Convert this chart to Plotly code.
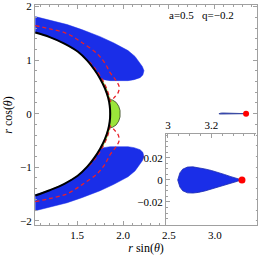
import plotly.graph_objects as go

# ---- data ----
black_x = [1.043, 1.20, 1.36, 1.505, 1.61, 1.688, 1.75, 1.803, 1.837, 1.854, 1.86,
           1.854, 1.837, 1.803, 1.75, 1.688, 1.61, 1.505, 1.36, 1.20, 1.043]
black_y = [1.515, 1.43, 1.31, 1.16, 0.99, 0.82, 0.654, 0.47, 0.30, 0.15, 0.0,
           -0.15, -0.30, -0.47, -0.654, -0.82, -0.99, -1.16, -1.31, -1.43, -1.53]

blue_x = [1.043, 1.20, 1.391, 1.55, 1.75, 1.90, 2.054, 2.13, 2.185, 2.21, 2.228,
          2.215, 2.185, 2.12, 2.054, 1.95, 1.859, 1.79, 1.75, 1.688, 1.61, 1.505,
          1.36, 1.20, 1.043]
blue_y = [1.813, 1.745, 1.664, 1.57, 1.439, 1.32, 1.178, 1.07, 0.953, 0.88, 0.804,
          0.72, 0.673, 0.635, 0.617, 0.612, 0.617, 0.635, 0.654, 0.82, 0.99, 1.16,
          1.31, 1.43, 1.515]

red_outer_x = [1.043, 1.20, 1.391, 1.55, 1.717, 1.80, 1.859, 1.924, 1.957,
               1.946, 1.902, 1.859]
red_outer_y = [1.645, 1.585, 1.495, 1.33, 1.121, 0.95, 0.766, 0.617, 0.505,
               0.393, 0.299, 0.224]
red_inner_x = [1.859, 1.852, 1.82, 1.768, 1.706, 1.63]
red_inner_y = [0.224, 0.30, 0.47, 0.654, 0.82, 0.97]

strip_x = [1.859, 1.852, 1.82, 1.768, 1.706, 1.63, 1.62, 1.688, 1.75, 1.803, 1.837, 1.846]
strip_y = [0.224, 0.30, 0.47, 0.654, 0.82, 0.97, 0.97, 0.82, 0.654, 0.47, 0.30, 0.224]

ell_x = [1.850, 1.885, 1.925, 1.952, 1.967, 1.970, 1.967, 1.952, 1.925, 1.885,
         1.850, 1.857, 1.860, 1.857, 1.850]
ell_y = [0.265, 0.255, 0.21, 0.14, 0.06, 0.0, -0.06, -0.14, -0.21, -0.255,
         -0.265, -0.13, 0.0, 0.13, 0.265]

drop_x = [3.045, 3.055, 3.068, 3.09, 3.115, 3.14, 3.17, 3.20, 3.23, 3.26, 3.29, 3.32, 3.341]
drop_y = [0.0, 0.0064, 0.0098, 0.0117, 0.0119, 0.0113, 0.0100, 0.0086, 0.0070,
          0.0050, 0.0030, 0.0012, 0.0]
dot_x = [3.341]
dot_y = [0.0]

main_xticks = [1.5, 2.0, 2.5, 3.0]
main_yticks = [-2, -1, 0, 1, 2]
inset_xticks = [3.0, 3.2]
inset_xtext = ["3", "3.2"]
inset_yticks = [-0.02, 0.0, 0.02]

BLUE = "#1a2ee8"
GREEN = "#9be53a"
FONT = "Liberation Serif"

fig = go.Figure()

def neg(v):
    return [-a for a in v]

# green strips
for sy in (strip_y, neg(strip_y)):
    fig.add_trace(go.Scatter(x=strip_x, y=sy, fill="toself", fillcolor=GREEN,
                             line=dict(color=GREEN, width=0.5), mode="lines",
                             hoverinfo="skip", showlegend=False))
# blue regions
for by in (blue_y, neg(blue_y)):
    fig.add_trace(go.Scatter(x=blue_x, y=by, fill="toself", fillcolor=BLUE,
                             line=dict(color=BLUE, width=0.5), mode="lines",
                             hoverinfo="skip", showlegend=False))
# green ellipse
fig.add_trace(go.Scatter(x=ell_x, y=ell_y, fill="toself", fillcolor=GREEN,
                         line=dict(color="#334422", width=0.8), mode="lines",
                         hoverinfo="skip", showlegend=False))
# red dashed
for rx, ry in ((red_outer_x, red_outer_y), (red_outer_x, neg(red_outer_y)),
               (red_inner_x, red_inner_y), (red_inner_x, neg(red_inner_y))):
    fig.add_trace(go.Scatter(x=rx, y=ry, mode="lines",
                             line=dict(color="#e8202a", width=1.3, dash="4px,3px",
                                       shape="spline"),
                             hoverinfo="skip", showlegend=False))
# black curve
fig.add_trace(go.Scatter(x=black_x, y=black_y, mode="lines",
                         line=dict(color="black", width=2, shape="spline"),
                         hoverinfo="skip", showlegend=False))
# tiny teardrop in main
fig.add_trace(go.Scatter(x=drop_x + drop_x[::-1], y=drop_y + neg(drop_y)[::-1],
                         fill="toself", fillcolor=BLUE, mode="lines",
                         line=dict(color="#3a4aa0", width=1),
                         hoverinfo="skip", showlegend=False))
fig.add_trace(go.Scatter(x=dot_x, y=dot_y, mode="markers",
                         marker=dict(color="red", size=6), hoverinfo="skip",
                         showlegend=False))
# inset teardrop
fig.add_trace(go.Scatter(x=drop_x + drop_x[::-1], y=drop_y + neg(drop_y)[::-1],
                         fill="toself", fillcolor=BLUE, mode="lines",
                         line=dict(color="#1a2ab0", width=0.8),
                         xaxis="x2", yaxis="y2",
                         hoverinfo="skip", showlegend=False))
fig.add_trace(go.Scatter(x=dot_x, y=dot_y, mode="markers",
                         marker=dict(color="red", size=7), xaxis="x2", yaxis="y2",
                         hoverinfo="skip", showlegend=False))

AX = "#a0a0a0"
tickfont = dict(family=FONT, size=11, color="black")

fig.update_layout(
    width=258, height=257,
    margin=dict(l=35, r=1, t=5, b=32),
    paper_bgcolor="white", plot_bgcolor="white",
    font=dict(family=FONT, size=11, color="black"),
    xaxis=dict(range=[1.04, 3.46], tickvals=main_xticks, tickformat=".1f",
               ticks="inside", ticklen=4, tickcolor=AX, showline=True,
               linecolor=AX, linewidth=1, mirror="ticks", showgrid=False,
               zeroline=False, tickfont=tickfont,
               minor=dict(dtick=0.1, ticks="inside", ticklen=2, tickcolor=AX),
               title=dict(text="<i>r</i> sin(<i>θ</i>)", standoff=2,
                          font=dict(family=FONT, size=12))),
    yaxis=dict(range=[-2.08, 2.03], tickvals=main_yticks,
               ticks="inside", ticklen=4, tickcolor=AX, showline=True,
               linecolor=AX, linewidth=1, mirror="ticks", showgrid=False,
               zeroline=False, tickfont=tickfont,
               minor=dict(dtick=0.2, ticks="inside", ticklen=2, tickcolor=AX),
               title=dict(text="<i>r</i> cos(<i>θ</i>)", standoff=4,
                          font=dict(family=FONT, size=12))),
    xaxis2=dict(domain=[0.59, 0.995], anchor="y2", side="top",
                range=[2.991, 3.405], tickvals=inset_xticks, ticktext=inset_xtext,
                ticks="inside", ticklen=4, tickcolor=AX, showline=True,
                linecolor=AX, linewidth=1, showgrid=False, zeroline=False,
                tickfont=tickfont,
                minor=dict(dtick=0.05, ticks="inside", ticklen=2, tickcolor=AX)),
    yaxis2=dict(domain=[0.0, 0.414], anchor="x2",
                range=[-0.0409, 0.0418], tickvals=inset_yticks,
                ticks="inside", ticklen=4, tickcolor=AX, showline=True,
                linecolor=AX, linewidth=1, showgrid=False, zeroline=False,
                tickfont=tickfont,
                minor=dict(dtick=0.005, ticks="inside", ticklen=2, tickcolor=AX)),
    annotations=[dict(text="a=0.5   q=\u22120.2", x=0.75, y=0.955,
                      xref="paper", yref="paper", showarrow=False,
                      xanchor="center", yanchor="middle",
                      font=dict(family=FONT, size=11, color="black"))],
)

fig.write_html("out.html", config={"displayModeBar": False},
               post_script="document.body.style.margin='0px';document.body.style.padding='0px';")
